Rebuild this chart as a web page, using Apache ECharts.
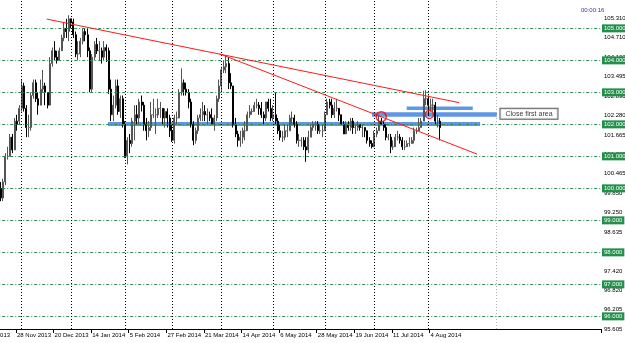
<!DOCTYPE html>
<html><head><meta charset="utf-8">
<script src="https://cdn.jsdelivr.net/npm/echarts@6/dist/echarts.min.js"></script>
<style>html,body{margin:0;padding:0;background:#fff}#c{width:625px;height:343px}</style>
</head><body><div id="c"></div>
<script>
// ---- DATA (daily bars: [open, close, low, high]) ----
const nov2013 = [[100.0,99.7,99.6,100.2],[99.7,100.2,99.6,100.3],[100.2,101.0,100.1,101.1],[101.0,101.0,100.9,101.3],[101.0,101.6,101.0,101.7],[101.6,101.2,101.1,101.7],[101.2,102.1,101.2,102.2],[102.1,102.0,101.8,102.3],[102.1,102.5,102.0,102.6]];
const dec2013 = [[102.5,103.2,102.4,103.4],[103.2,102.5,102.4,103.3],[102.5,101.9,101.6,102.6],[101.9,101.9,101.6,102.3],[101.9,102.9,101.8,103.0],[102.9,103.3,102.8,103.4],[103.3,102.8,102.7,103.4],[102.8,102.6,102.3,103.0],[102.6,103.1,102.6,103.4],[103.1,103.2,103.0,103.7],[103.2,103.0,102.6,103.3],[103.0,102.6,102.5,103.0],[102.6,103.9,102.6,104.1],[103.9,104.3,103.8,104.4],[104.3,104.1,104.0,104.6],[104.1,104.0,103.9,104.3],[104.0,104.3,104.0,104.4],[104.3,104.7,104.3,104.8],[104.7,105.0,104.6,105.2],[105.0,104.9,104.7,105.3],[104.9,105.3,104.6,105.41]];
const jan2014 = [[105.3,105.2,105.0,105.3],[105.2,104.8,104.7,105.3],[104.8,104.2,104.1,104.9],[104.2,104.2,104.0,104.6],[104.2,104.6,104.1,104.7],[104.6,104.9,104.5,105.0],[104.9,104.8,104.6,105.0],[104.8,104.3,104.1,105.0],[104.3,103.1,103.0,104.4],[103.1,104.1,103.0,104.2],[104.1,104.5,104.0,104.6],[104.5,104.3,104.2,104.7],[104.3,104.3,104.0,104.6],[104.3,104.1,103.9,104.4],[104.1,104.4,104.0,104.6],[104.4,104.3,103.95,104.5],[104.3,103.1,102.95,104.4],[103.1,102.3,102.1,103.4],[102.3,102.6,102.1,102.9],[102.6,103.2,102.5,103.4],[103.2,102.4,102.3,103.4],[102.4,102.8,102.2,102.9],[102.8,102.0,101.9,102.9]];
const feb2014 = [[102.0,101.0,100.95,102.1],[101.0,101.5,100.75,101.6],[101.5,101.4,101.1,101.7],[101.4,102.1,101.3,102.2],[102.1,102.3,101.5,102.6],[102.3,102.2,102.0,102.6],[102.2,102.7,102.0,102.8],[102.7,102.6,102.4,102.9],[102.6,102.0,101.8,102.7],[102.0,101.8,101.5,102.2],[101.8,101.9,101.6,102.1],[101.9,102.3,101.8,102.7],[102.3,102.3,102.2,102.8],[102.3,102.3,101.7,102.5],[102.3,102.5,102.2,102.8],[102.5,102.5,102.2,102.7],[102.5,102.2,102.0,102.5],[102.2,102.4,101.9,102.5],[102.4,102.2,101.9,102.5],[102.2,101.8,101.6,102.3]];
const mar2014 = [[101.8,101.5,101.45,102.0],[101.5,102.2,101.4,102.3],[102.2,102.2,102.0,102.4],[102.2,103.0,102.2,103.1],[103.0,103.3,102.9,103.75],[103.3,103.1,102.9,103.4],[103.1,103.0,102.9,103.3],[103.0,102.7,102.5,103.1],[102.7,102.0,101.9,102.8],[102.0,101.5,101.35,102.1],[101.5,101.8,101.4,101.9],[101.8,102.2,101.7,102.3],[102.2,102.3,102.1,102.5],[102.3,102.4,102.1,102.7],[102.4,102.3,102.1,102.6],[102.3,102.3,102.0,102.5],[102.3,102.2,102.1,102.4],[102.2,102.0,102.0,102.5],[102.0,102.2,101.8,102.3],[102.2,102.8,102.1,102.9],[102.8,103.2,102.7,103.4]];
const apr2014 = [[103.2,103.7,103.0,103.8],[103.7,103.8,103.6,104.0],[103.8,103.9,103.6,104.15],[103.9,103.3,103.1,104.1],[103.3,103.2,103.1,103.6],[103.2,102.0,101.9,103.2],[102.0,101.7,101.6,102.2],[101.7,101.5,101.3,101.8],[101.5,101.6,101.3,101.8],[101.6,101.8,101.4,101.9],[101.8,101.8,101.5,102.1],[101.8,102.3,101.8,102.4],[102.3,102.4,102.2,102.6],[102.4,102.4,102.3,102.5],[102.4,102.6,102.4,102.7],[102.6,102.6,102.5,102.8],[102.6,102.5,102.3,102.7],[102.5,102.3,102.2,102.7],[102.3,102.2,102.0,102.4],[102.2,102.7,102.1,102.7],[102.7,102.5,102.4,102.8],[102.5,102.2,102.1,102.8]];
const may2014 = [[102.2,102.3,102.1,102.6],[102.3,102.1,101.98,103.0],[102.1,101.8,101.7,102.2],[101.8,101.6,101.5,102.0],[101.6,101.6,101.45,101.8],[101.6,101.8,101.5,102.0],[101.8,101.8,101.6,102.0],[101.8,102.2,101.8,102.3],[102.2,102.2,102.0,102.4],[102.2,102.0,101.9,102.3],[102.0,101.5,101.4,102.1],[101.5,101.5,101.3,101.7],[101.5,101.5,101.3,101.6],[101.5,101.3,101.2,101.6],[101.3,101.2,100.83,101.6],[101.2,101.6,101.1,101.8],[101.6,101.9,101.6,102.0],[101.9,102.0,101.8,102.1],[102.0,102.0,101.8,102.1],[102.0,101.8,101.7,102.1],[101.8,101.8,101.7,102.0],[101.8,101.8,101.6,102.0]];
const jun2014 = [[101.8,102.3,101.8,102.4],[102.3,102.7,102.3,102.8],[102.7,102.6,102.5,102.8],[102.6,102.3,102.2,102.8],[102.3,102.5,102.2,102.7],[102.5,102.5,102.4,102.8],[102.5,102.3,102.1,102.5],[102.3,102.0,102.0,102.3],[102.0,101.7,101.7,102.1],[101.7,102.0,101.7,102.1],[102.0,101.9,101.8,102.1],[101.9,102.1,101.8,102.2],[102.1,101.9,101.7,102.2],[101.9,101.9,101.7,102.0],[101.9,102.0,101.8,102.1],[102.0,101.9,101.8,102.0],[101.9,101.9,101.6,102.0],[101.9,101.8,101.6,101.9],[101.8,101.5,101.4,101.8],[101.5,101.4,101.3,101.6],[101.4,101.3,101.25,101.5]];
const jul2014 = [[101.3,101.7,101.3,101.8],[101.7,101.8,101.6,101.9],[101.8,102.1,101.8,102.3],[102.1,102.0,102.0,102.2],[102.0,101.9,101.8,102.1],[101.9,101.6,101.5,102.0],[101.6,101.6,101.5,101.7],[101.6,101.3,101.1,101.7],[101.3,101.3,101.2,101.5],[101.3,101.6,101.3,101.7],[101.6,101.6,101.5,101.8],[101.6,101.5,101.4,101.7],[101.5,101.3,101.2,101.6],[101.3,101.3,101.2,101.5],[101.3,101.4,101.3,101.5],[101.4,101.4,101.3,101.6],[101.4,101.5,101.4,101.6],[101.5,101.8,101.4,101.9],[101.8,101.8,101.7,101.9],[101.8,101.9,101.8,102.2],[101.9,102.1,101.9,102.2],[102.1,102.8,102.1,103.05],[102.8,102.8,102.6,103.07]];
const aug2014 = [[102.8,102.6,102.3,102.9],[102.6,102.6,102.4,102.8],[102.6,102.6,102.4,102.8],[102.6,102.1,102.0,102.7],[102.1,102.1,101.9,102.3],[102.1,101.9,101.5,102.2]];

const firstBarDate = '19 Nov 2013';
const axisStartDate = [2013, 10, 6];      // 6 Nov 2013 (partly off-screen label)
const holidays = ['2013-12-25'];
const categoryCount = 265;
const dateLabels = ['6 Nov 2013','28 Nov 2013','20 Dec 2013','14 Jan 2014','5 Feb 2014','27 Feb 2014','21 Mar 2014','14 Apr 2014','6 May 2014','28 May 2014','19 Jun 2014','11 Jul 2014','4 Aug 2014'];
const priceTicks = ['95.605','96.205','96.820','97.420','98.030','98.635','99.250','99.850','100.465','101.065','101.665','102.280','102.890','103.495','104.100','104.710','105.310'];
const levelLines = [96,97,98,99,100,101,102,103,104,105];
const priceMin = 95.605, priceMax = 105.88625;
// drawn objects, in [bar position, price]
const trendUpper = [[28.64,105.29],[204.08,102.68]];
const trendLower = [[102.38,104.20],[211.74,101.07]];
const zones = [[54.72,213.0,101.95,102.07],[167.06,220.26,102.24,102.38],[181.83,209.92,102.45,102.56]];
const circles = [[170.98,102.24,10],[191.45,102.31,8]];
const note = {pos:[221.5,102.33], text:'Close first area'};
const shiftLine = 220;
const timerText = '00:00:16';

// ---- build ----
const MON = ['Jan','Feb','Mar','Apr','May','Jun','Jul','Aug','Sep','Oct','Nov','Dec'];
const categories = [], months = [];
let d = new Date(Date.UTC(axisStartDate[0], axisStartDate[1], axisStartDate[2]));
while (categories.length < categoryCount) {
  const wd = d.getUTCDay(), iso = d.toISOString().slice(0,10);
  if (wd !== 0 && wd !== 6 && holidays.indexOf(iso) < 0) {
    categories.push(d.getUTCDate() + ' ' + MON[d.getUTCMonth()] + ' ' + d.getUTCFullYear());
    months.push(d.getUTCMonth());
  }
  d = new Date(d.getTime() + 86400000);
}
const ohlc = [].concat(nov2013, dec2013, jan2014, feb2014, mar2014, apr2014, may2014, jun2014, jul2014, aug2014);
const first = categories.indexOf(firstBarDate);
const candleData = ohlc.map((v, i) => [first + i, v[0], v[1], v[2], v[3]]);
const lastBar = first + ohlc.length - 1;
const sepIdx = [];
for (let i = first + 1; i <= lastBar; i++) if (months[i] !== months[i-1]) sepIdx.push(i);

const FONT = 'Liberation Sans';
const labelInterval = (idx, val) => dateLabels.indexOf(val) >= 0;

const markLines = [];
levelLines.forEach(v => markLines.push({
  yAxis: v,
  lineStyle: {color: '#2d8f4e', type: [3, 2, 1, 2], width: 1},
  label: {show: true, position: 'end', distance: 1, formatter: v.toFixed(3), color: '#fff',
    backgroundColor: '#23904a', padding: [1, 2, 1, 2], fontSize: 6, fontFamily: FONT}
}));
sepIdx.forEach(i => markLines.push({xAxis: categories[i], lineStyle: {color: '#000', type: [1, 2], width: 1}, label: {show: false}}));
markLines.push({xAxis: categories[shiftLine], lineStyle: {color: '#b0b0b0', type: [1, 2], width: 1}, label: {show: false}});

const chart = echarts.init(document.getElementById('c'), null, {renderer: 'canvas', width: 625, height: 343});
chart.setOption({
  animation: false,
  backgroundColor: '#ffffff',
  title: {text: timerText, left: 576, top: 2, textStyle: {fontSize: 6, fontWeight: 'normal', color: '#3535b0', fontFamily: FONT}},
  grid: {left: -21.775, right: 24, top: 0, bottom: 14, containLabel: false, outerBoundsMode: 'none'},
  xAxis: [
    {type: 'category', data: categories, boundaryGap: true,
     axisLine: {lineStyle: {color: '#000', width: 1}},
     axisTick: {show: true, interval: labelInterval, length: 4, lineStyle: {color: '#000'}},
     axisLabel: {interval: labelInterval, align: 'left', fontSize: 6, margin: 3, color: '#000', fontFamily: FONT},
     splitLine: {show: false}},
    {type: 'value', min: -0.5, max: categoryCount - 0.5, show: false}
  ],
  yAxis: {type: 'value', position: 'right', min: priceMin, max: priceMax,
    axisLine: {show: true, lineStyle: {color: '#000'}},
    axisTick: {show: true, length: 2, customValues: priceTicks.map(Number), lineStyle: {color: '#000'}},
    axisLabel: {customValues: priceTicks.map(Number), formatter: v => v.toFixed(3), fontSize: 6, margin: 3, color: '#000', fontFamily: FONT},
    splitLine: {show: false}},
  series: [
    {type: 'line', xAxisIndex: 1, data: [], z: 1,
     markArea: {silent: true, data: zones.map(z => [
       {xAxis: z[0], yAxis: z[2], itemStyle: {color: '#5f97e6'}}, {xAxis: z[1], yAxis: z[3]}])}},
    {type: 'candlestick', xAxisIndex: 0, data: candleData, encode: {x: 0, y: [1, 2, 3, 4]}, z: 2,
     barWidth: 1.5,
     itemStyle: {color: '#a6a6a6', color0: '#000', borderColor: '#555555', borderColor0: '#000', borderWidth: 1},
     markLine: {symbol: 'none', silent: true, data: markLines}},
    {type: 'line', xAxisIndex: 1, data: trendUpper, symbol: 'none', z: 5, lineStyle: {color: '#ff1a1a', width: 1}},
    {type: 'line', xAxisIndex: 1, data: trendLower, symbol: 'none', z: 5, lineStyle: {color: '#ff1a1a', width: 1}},
    {type: 'scatter', xAxisIndex: 1, z: 6, data: circles.map(c => ({value: [c[0], c[1]], symbolSize: c[2]})),
     itemStyle: {color: 'rgba(0,0,0,0)', borderColor: '#ff0000', borderWidth: 1.5}},
    {type: 'scatter', xAxisIndex: 1, z: 7, symbolSize: 1, data: [note.pos], itemStyle: {color: 'rgba(0,0,0,0)'},
     label: {show: true, position: 'right', distance: 0, formatter: note.text, color: '#000', fontSize: 7, fontFamily: FONT,
       backgroundColor: '#fff', borderColor: '#333', borderWidth: 1, padding: [2, 5, 1, 5]}}
  ]
});
</script></body></html>
